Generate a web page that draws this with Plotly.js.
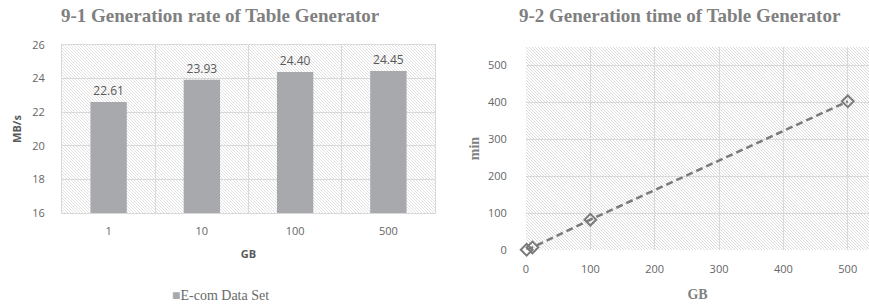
<!DOCTYPE html>
<html>
<head>
<meta charset="utf-8">
<script src="https://cdn.plot.ly/plotly-3.0.1.min.js"></script>
<style>
  html, body { margin: 0; padding: 0; background: #fff; }
  #chart { width: 869px; height: 304px; }
</style>
</head>
<body>
<div id="chart"></div>
<script>
// ---- data ----
const gbCategories = ['1', '10', '100', '500'];
const rateValues = [22.61, 23.93, 24.40, 24.45];
const sizeGB = [1, 10, 100, 500];
const timeMin = [0.7, 7, 82, 402];
const seriesName = 'E-com Data Set';
const leftTitle = '9-1 Generation rate of Table Generator';
const rightTitle = '9-2 Generation time of Table Generator';

const W = 869, H = 304;
const gridCol = '#d9d9d9';
const barCol = '#a8a9ad';
const tickFont = {family: 'Open Sans, sans-serif', size: 11, color: '#666666'};
const titleGray = '#808080';

// hatched plot-area background as an inline svg image
function hatch(w, h, col) {
  const svg = "<svg xmlns='http://www.w3.org/2000/svg' width='" + w + "' height='" + h + "'>" +
    "<defs><pattern id='h' patternUnits='userSpaceOnUse' width='3' height='3'>" +
    "<rect width='3' height='3' fill='#ffffff'/>" +
    "<path d='M-1,-1 L4,4 M2,-1 L4,1 M-1,2 L1,4' stroke='" + col + "' stroke-width='0.8'/>" +
    "</pattern></defs><rect width='100%' height='100%' fill='url(#h)'/></svg>";
  return 'data:image/svg+xml;charset=utf-8,' + encodeURIComponent(svg);
}

const xd1 = [62 / W, 435 / W], yd1 = [1 - 213 / H, 1 - 45 / H];
const xd2 = [526 / W, 1], yd2 = [1 - 250 / H, 1 - 47 / H];

const traces = [
  {
    type: 'bar',
    x: gbCategories,
    y: rateValues,
    name: seriesName,
    showlegend: false,
    marker: {color: barCol},
    texttemplate: '%{y:.2f}',
    textposition: 'outside',
    cliponaxis: false,
    textfont: {family: 'Open Sans, sans-serif', size: 12, color: '#595959'},
    xaxis: 'x', yaxis: 'y',
    hoverinfo: 'skip'
  },
  {
    type: 'scatter',
    mode: 'lines+markers',
    x: sizeGB,
    y: timeMin,
    showlegend: false,
    line: {color: '#7a7a7a', width: 2.5, dash: '7px,4px'},
    marker: {symbol: 'diamond-open', size: 9, color: '#7a7a7a', line: {width: 2, color: '#7a7a7a'}},
    cliponaxis: false,
    xaxis: 'x2', yaxis: 'y2',
    hoverinfo: 'skip'
  }
];

const layout = {
  width: W, height: H, autosize: false,
  margin: {l: 0, r: 0, t: 0, b: 0},
  paper_bgcolor: '#ffffff',
  plot_bgcolor: '#ffffff',
  bargap: 0.61,
  showlegend: false,
  xaxis: {
    domain: xd1, anchor: 'y', type: 'category',
    tickson: 'boundaries', showgrid: true, gridcolor: gridCol, gridwidth: 1,
    showline: true, linecolor: gridCol, mirror: true,
    ticks: '', ticklabelstandoff: 8,
    tickfont: tickFont, zeroline: false,
    title: {text: 'GB', font: {family: 'Open Sans, sans-serif', size: 11, color: '#595959', weight: 'bold'}, standoff: 13}
  },
  yaxis: {
    domain: yd1, anchor: 'x',
    range: [16, 26], dtick: 2, tick0: 16,
    showgrid: true, gridcolor: gridCol, gridwidth: 1,
    showline: true, linecolor: gridCol, mirror: true, zeroline: false,
    ticks: 'outside', ticklen: 14, tickcolor: 'rgba(0,0,0,0)',
    tickfont: tickFont,
    title: {text: 'MB/s', font: {family: 'Open Sans, sans-serif', size: 11, color: '#595959', weight: 'bold'}, standoff: 8}
  },
  xaxis2: {
    domain: xd2, anchor: 'y2',
    range: [0, 533], dtick: 100, tick0: 0,
    showgrid: true, gridcolor: gridCol, gridwidth: 1, zeroline: false,
    showline: false,
    ticks: 'outside', ticklen: 9, tickcolor: 'rgba(0,0,0,0)',
    tickfont: tickFont,
    title: {text: 'GB', font: {family: 'Liberation Serif, serif', size: 14, color: titleGray, weight: 'bold'}, standoff: 13}
  },
  yaxis2: {
    domain: yd2, anchor: 'x2',
    range: [0, 549], dtick: 100, tick0: 0,
    showgrid: true, gridcolor: gridCol, gridwidth: 1, zeroline: false,
    showline: false,
    ticks: 'outside', ticklen: 16, tickcolor: 'rgba(0,0,0,0)',
    tickfont: tickFont,
    title: {text: 'min', font: {family: 'Liberation Serif, serif', size: 14, color: titleGray, weight: 'bold'}, standoff: 5}
  },
  images: [
    {source: hatch(373, 168, '#dadada'), xref: 'x domain', yref: 'y domain', x: 0, y: 1, sizex: 1, sizey: 1,
     xanchor: 'left', yanchor: 'top', sizing: 'stretch', layer: 'below'},
    {source: hatch(343, 203, '#d2d2d2'), xref: 'x2 domain', yref: 'y2 domain', x: 0, y: 1, sizex: 1, sizey: 1,
     xanchor: 'left', yanchor: 'top', sizing: 'stretch', layer: 'below'}
  ],
  annotations: [
    {text: leftTitle, xref: 'paper', yref: 'paper', x: 220 / W, y: 1 - 16 / H,
     xanchor: 'center', yanchor: 'middle', showarrow: false,
     font: {family: 'Liberation Serif, serif', size: 19, color: titleGray, weight: 'bold'}},
    {text: rightTitle, xref: 'paper', yref: 'paper', x: 680 / W, y: 1 - 16 / H,
     xanchor: 'center', yanchor: 'middle', showarrow: false,
     font: {family: 'Liberation Serif, serif', size: 19, color: titleGray, weight: 'bold'}},
    // legend
    {text: '<span style="color:' + barCol + '">■</span>' + seriesName, xref: 'paper', yref: 'paper',
     x: 170 / W, y: 1 - 295 / H, xanchor: 'left', yanchor: 'middle', showarrow: false,
     font: {family: 'Liberation Serif, serif', size: 14, color: '#6a6a6a'}}
  ]
};

Plotly.newPlot('chart', traces, layout, {staticPlot: true, displayModeBar: false});
</script>
</body>
</html>
